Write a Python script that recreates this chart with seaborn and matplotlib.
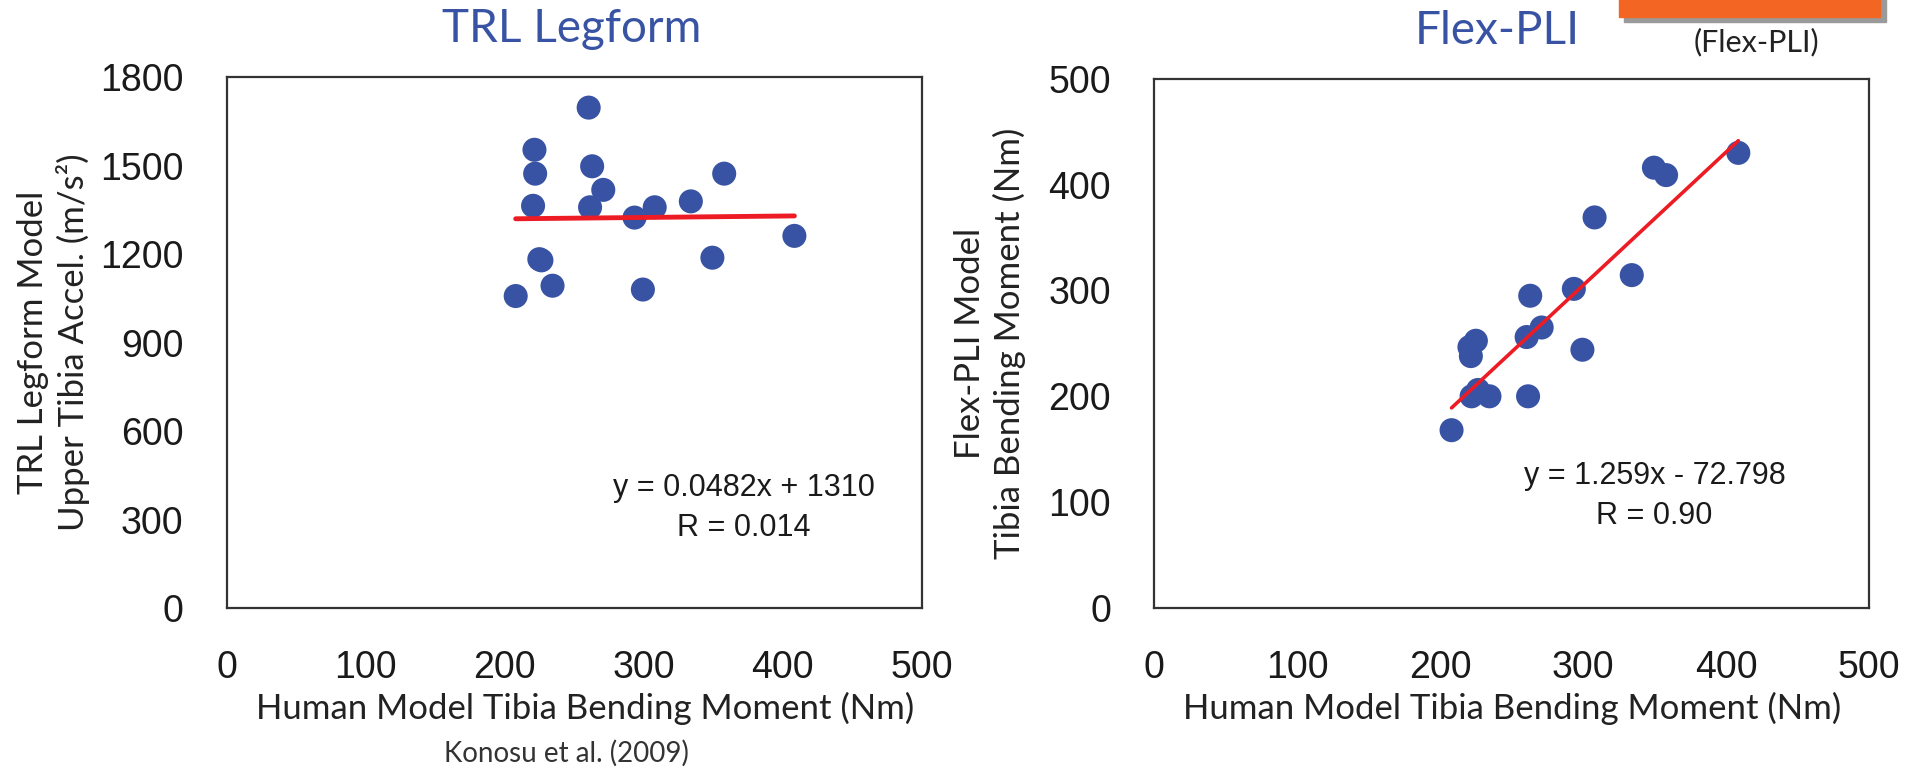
import matplotlib
matplotlib.use('Agg')
import matplotlib.pyplot as plt
import seaborn as sns
import pandas as pd
from matplotlib.patches import Rectangle

# human model tibia bending moment (Nm), shared by both panels
human_moment = [208, 220.5, 221.5, 222, 225, 226.5, 234.5, 260.5, 261.5,
                263, 271, 293.5, 299.5, 308, 334, 349.5, 358, 408.5]
# TRL legform upper tibia acceleration (m/s2)
trl_accel = [1058, 1364, 1554, 1473, 1183, 1179, 1093, 1697, 1359,
             1498, 1418, 1324, 1080, 1359, 1379, 1188, 1473, 1262]
# Flex-PLI tibia bending moment (Nm)
flex_moment = [168, 246.5, 238, 200, 252.5, 206, 200, 256, 200,
               295, 265, 301.5, 244, 369, 314.5, 416, 409, 430]

trl_fit = (0.0482, 1310)
flex_fit = (1.259, -72.798)

blue = '#3953a4'
red = '#ed1c24'
frame = '#333333'

sns.set_style('white')
plt.rcParams['font.family'] = ['Lato', 'DejaVu Sans']

df = pd.DataFrame({'human': human_moment, 'trl': trl_accel, 'flex': flex_moment})

fig = plt.figure(figsize=(19.12, 7.67), dpi=100)
ax1 = fig.add_axes([0.1185, 0.2073, 0.3635, 0.692])
ax2 = fig.add_axes([0.6036, 0.2073, 0.374, 0.690])


def fit_line(fit):
    xs = [min(human_moment), max(human_moment)]
    return pd.DataFrame({'x': xs, 'y': [fit[0] * v + fit[1] for v in xs]})


panels = [
    (ax1, 'trl', trl_fit, 3.5, 1800, 300, 'TRL Legform', 0.497,
     'TRL Legform Model\nUpper Tibia Accel. (m/s²)', -0.249, 0.516,
     'y = 0.0482x + 1310\nR = 0.014', 372, 340),
    (ax2, 'flex', flex_fit, 2.6, 500, 100, 'Flex-PLI', 0.48,
     'Flex-PLI Model\nTibia Bending Moment (Nm)', -0.229, 0.5,
     'y = 1.259x - 72.798\nR = 0.90', 350, 106),
]

for (ax, col, fit, lw, ymax, ystep, title, tx, ylab, ylx, xlx,
     eq, ex, ey) in panels:
    sns.scatterplot(data=df, x='human', y=col, ax=ax, color=blue, s=300,
                    edgecolor='none', zorder=3)
    sns.lineplot(data=fit_line(fit), x='x', y='y', ax=ax, color=red,
                 linewidth=lw, zorder=4)
    ax.set_xlim(0, 500)
    ax.set_ylim(0, ymax)
    ax.set_xticks(range(0, 501, 100))
    ax.set_yticks(range(0, ymax + 1, ystep))
    for s in ax.spines.values():
        s.set_color(frame)
        s.set_linewidth(1.6)
    ax.tick_params(axis='x', direction='in', length=8, width=1.5,
                   color=frame, pad=30, labelsize=27)
    ax.tick_params(axis='y', direction='in', length=8, width=1.5,
                   color=frame, pad=31, labelsize=27)
    for lab in ax.get_xticklabels() + ax.get_yticklabels():
        lab.set_fontfamily('Liberation Sans')
        lab.set_color('#1a1a1a')
    ax.set_xlabel('Human Model Tibia Bending Moment (Nm)', fontsize=25,
                  color='#222222', va='center')
    ax.xaxis.set_label_coords(xlx, -0.19)
    ax.set_ylabel(ylab, fontsize=25, color='#222222', va='center',
                  linespacing=1.25)
    ax.yaxis.set_label_coords(ylx, 0.5)
    ax.text(tx, 1.09, title, transform=ax.transAxes, ha='center',
            va='center', fontsize=33, color=blue)
    ax.text(ex, ey, eq, ha='center', va='center', fontsize=22,
            family='Liberation Sans', color='#1a1a1a', linespacing=1.45)

fig.text(0.296, 0.018, 'Konosu et al. (2009)', ha='center', va='center',
         fontsize=20, color='#333333')

# orange tag in the top right corner
fig.patches.append(Rectangle((0.8494, 0.9707), 0.137, 0.05,
                             transform=fig.transFigure, color='#9a9a9a',
                             zorder=1))
fig.patches.append(Rectangle((0.8468, 0.9778), 0.1365, 0.05,
                             transform=fig.transFigure, color='#f26522',
                             zorder=2))
fig.text(0.9185, 0.945, '(Flex-PLI)', ha='center', va='center',
         fontsize=22, color='#222222')

fig.savefig('out.png', dpi=100)
